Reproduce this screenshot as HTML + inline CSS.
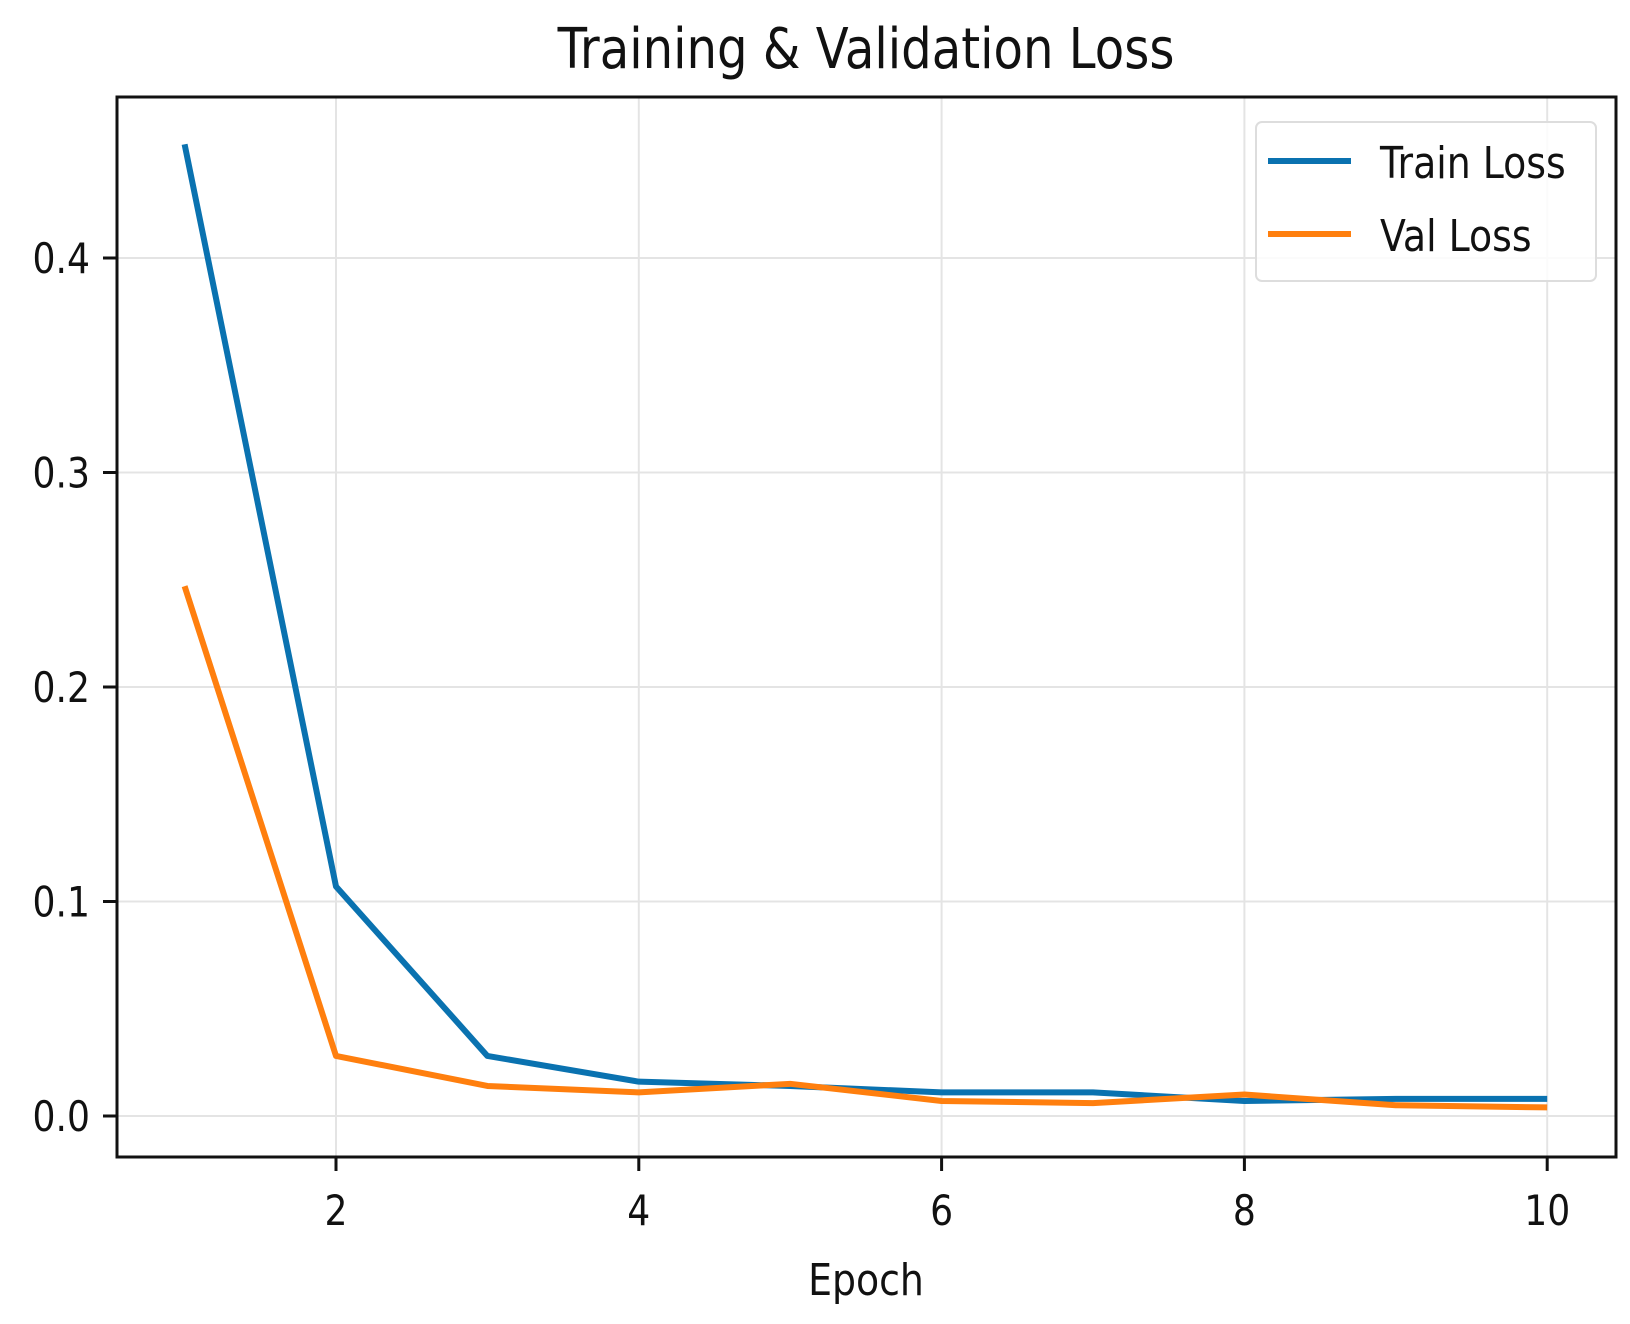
<!DOCTYPE html>
<html><head><meta charset="utf-8"><style>
html,body{margin:0;padding:0;background:#fff;}
svg{display:block;font-family:"DejaVu Sans","Liberation Sans",sans-serif;}
</style></head><body>
<svg id="chart" width="1630" height="1324" viewBox="0 0 1630 1324">
<rect width="1630" height="1324" fill="#fff"/>
<text x="866" y="68" text-anchor="middle" font-size="56" fill="#111" transform="translate(866 0) scale(0.86 1) translate(-866 0)">Training &amp; Validation Loss</text>
<g id="grid"></g>
<g id="ticks"></g>
<g id="series"></g>
<rect x="117" y="97" width="1499" height="1060" fill="none" stroke="#111" stroke-width="3"/>
<text x="866" y="1295" text-anchor="middle" font-size="44" fill="#111" transform="translate(866 0) scale(0.86 1) translate(-866 0)">Epoch</text>
<g>
<rect x="1256" y="122" width="340" height="159" rx="6" fill="#fff" fill-opacity="0.85" stroke="#ddd" stroke-width="2"/>
<line x1="1268" y1="161" x2="1351" y2="161" stroke="#0a72b0" stroke-width="6"/>
<text x="1380" y="178" font-size="44" fill="#111" transform="translate(1380 0) scale(0.86 1) translate(-1380 0)">Train Loss</text>
<line x1="1268" y1="234" x2="1351" y2="234" stroke="#ff7f0e" stroke-width="6"/>
<text x="1380" y="251" font-size="44" fill="#111" transform="translate(1380 0) scale(0.86 1) translate(-1380 0)">Val Loss</text>
</g>
</svg>
<script>
const epochs=[1,2,3,4,5,6,7,8,9,10];
const trainLoss=[0.453,0.107,0.028,0.016,0.014,0.011,0.011,0.007,0.008,0.008];
const valLoss=[0.247,0.028,0.014,0.011,0.015,0.007,0.006,0.010,0.005,0.004];
const xTicks=[2,4,6,8,10];
const yTicks=[0.0,0.1,0.2,0.3,0.4];
const yTickLabels=["0.0","0.1","0.2","0.3","0.4"];
const NS="http://www.w3.org/2000/svg";
function X(v){return 336+(v-2)*151.4;}
function Y(v){return 1116-v*2145;}
function mk(tag,attrs,parent){const e=document.createElementNS(NS,tag);for(const k in attrs)e.setAttribute(k,attrs[k]);parent.appendChild(e);return e;}
const grid=document.getElementById('grid'),ticks=document.getElementById('ticks'),series=document.getElementById('series');
xTicks.forEach(t=>{
 const g=mk('line',{x1:X(t),x2:X(t),y1:97,y2:1157,stroke:'#e4e4e4','stroke-width':2},grid);
 
 
 const tk=mk('line',{x1:X(t),x2:X(t),y1:1157,y2:1171,stroke:'#111','stroke-width':3},ticks);
 
 
 const tx=mk('text',{x:X(t),y:1225,'text-anchor':'middle','font-size':42,fill:'#111',transform:`translate(${X(t)} 0) scale(0.86 1) translate(${-X(t)} 0)`},ticks);
 tx.textContent=String(t);
 
 
});
yTicks.forEach((t,i)=>{
 const g=mk('line',{x1:117,x2:1616,y1:Y(t),y2:Y(t),stroke:'#e4e4e4','stroke-width':2},grid);
 
 
 const tk=mk('line',{x1:103,x2:117,y1:Y(t),y2:Y(t),stroke:'#111','stroke-width':3},ticks);
 
 
 const tx=mk('text',{x:90,y:Y(t)+15,'text-anchor':'end','font-size':42,fill:'#111',transform:`translate(90 0) scale(0.86 1) translate(-90 0)`},ticks);
 tx.textContent=yTickLabels[i];
 
 
});
function line(vals,color,name){
 const p=mk('polyline',{points:vals.map((v,i)=>X(epochs[i])+','+Y(v)).join(' '),fill:'none',stroke:color,'stroke-width':6,'stroke-linejoin':'round'},series);
 
 
}
line(trainLoss,'#0a72b0','train-loss-line');
line(valLoss,'#ff7f0e','val-loss-line');
</script>
</body></html>
